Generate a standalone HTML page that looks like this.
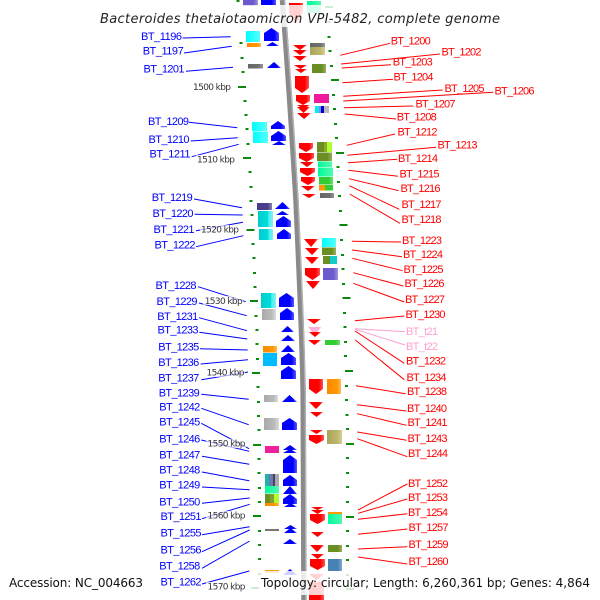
<!DOCTYPE html>
<html>
<head>
<meta charset="utf-8">
<style>
html,body{margin:0;padding:0;background:#fff;width:600px;height:600px;overflow:hidden}
svg{display:block}
.l{font:11px "Liberation Sans",sans-serif}
.k{font:9px "DejaVu Sans",sans-serif;fill:#333}
.b text{fill:#00f}
.r text{fill:#f00}
</style>
</head>
<body>
<svg width="600" height="600" viewBox="0 0 600 600" xmlns="http://www.w3.org/2000/svg">
<defs>
<linearGradient id="gb"><stop offset="0" stop-color="#00f"/><stop offset=".7" stop-color="#00f"/><stop offset="1" stop-color="#55f"/></linearGradient>
<linearGradient id="gr"><stop offset="0" stop-color="#f00"/><stop offset=".7" stop-color="#f00"/><stop offset="1" stop-color="#f55"/></linearGradient>
<linearGradient id="gc"><stop offset="0" stop-color="#0cc"/><stop offset=".65" stop-color="#0dd"/><stop offset=".7" stop-color="#4ee"/><stop offset="1" stop-color="#8ee"/></linearGradient>
<linearGradient id="gC"><stop offset="0" stop-color="#0ff"/><stop offset="1" stop-color="#5ff"/></linearGradient>
<linearGradient id="gg"><stop offset="0" stop-color="#aaa"/><stop offset=".7" stop-color="#bbb"/><stop offset="1" stop-color="#ddd"/></linearGradient>
<linearGradient id="go"><stop offset="0" stop-color="#6b8e23"/><stop offset=".7" stop-color="#6b8e23"/><stop offset="1" stop-color="#9ab060"/></linearGradient>
<linearGradient id="gk"><stop offset="0" stop-color="#a8a35e"/><stop offset=".7" stop-color="#bdb76b"/><stop offset="1" stop-color="#d5d09a"/></linearGradient>
<linearGradient id="gS"><stop offset="0" stop-color="#00fa9a"/><stop offset="1" stop-color="#50fab0"/></linearGradient>
<linearGradient id="gl"><stop offset="0" stop-color="#32cd32"/><stop offset=".7" stop-color="#32cd32"/><stop offset="1" stop-color="#70dd70"/></linearGradient>
<linearGradient id="gO"><stop offset="0" stop-color="#f80"/><stop offset=".7" stop-color="#f90"/><stop offset="1" stop-color="#fb5"/></linearGradient>
<linearGradient id="gp"><stop offset="0" stop-color="#6a5acd"/><stop offset=".7" stop-color="#6a5acd"/><stop offset="1" stop-color="#a096e0"/></linearGradient>
<linearGradient id="gd"><stop offset="0" stop-color="#483d8b"/><stop offset=".7" stop-color="#483d8b"/><stop offset="1" stop-color="#8a82b8"/></linearGradient>
<linearGradient id="gD"><stop offset="0" stop-color="#666"/><stop offset=".7" stop-color="#707070"/><stop offset="1" stop-color="#999"/></linearGradient>
<linearGradient id="gB"><stop offset="0" stop-color="#4682b4"/><stop offset=".7" stop-color="#4682b4"/><stop offset="1" stop-color="#80a8d0"/></linearGradient>
<linearGradient id="gy"><stop offset="0" stop-color="#0bf"/><stop offset="1" stop-color="#0bf"/></linearGradient>
</defs>

<!-- backbone -->
<path d="M282.5 0 C288 70 293 150 296 200 C299 270 303 350 303.2 400 L304 600" fill="none" stroke="#8a8a8a" stroke-width="5.5"/>
<path d="M284.5 0 C290 70 295 150 298 200 C301 270 305 350 305.2 400 L306 600" fill="none" stroke="#b5b5b5" stroke-width="1.2"/>

<!-- ticks -->
<g stroke="#0a8a0a" stroke-width="2" fill="none">
<path d="M236.500 1h3M239.500 43h3M240.500 58h3M241.500 72h3M238 87h8M243.500 101h3M244.500 115h3M245.500 129h3M246.500 144h3M243 158h8M248.500 172h3M249.500 187h3M249.500 201h3M250.500 215h3M246.500 230h8M251.500 244h3M252.500 258h3M253 273h3M253.500 287h3M250 301h8M254.500 316h3M255.500 330h3M255.500 344h3M256 359h3M252 373h8M256.500 387h3M257 402h3M257 416h3M257.500 430h3M253 445h8M257.500 459h3M257.500 473h3M258 488h3M258 502h3M253 516h8M258 531h3M258 545h3M258 559h3M258 574h3M251 588h8"/>
<path d="M325 7h8M327.500 22h3M327.500 37h3M328.500 51h3M330 66h3M331 80h8M332 95h3M333 109h3M334 124h3M335 138h3M336 153h8M336.500 167h3M337 182h3M338 196h3M339 211h3M339.500 225h8M340 240h3M341 255h3M341.500 269h3M342 284h3M342.500 298h8M343 313h3M343.500 327h3M344 342h3M344 356h3M345 371h8M345 386h3M345 400h3M345.500 415h3M346 429h3M346 444h8M346 458h3M346 473h3M346 487h3M346 502h3M346 517h8M346 531h3M346 546h3M346 560h3M346 575h3M346 589h8"/>
</g>

<!-- left boxes -->
<rect x="243" y="0" width="15" height="6" fill="url(#gp)"/>
<rect x="246" y="31" width="14" height="11" fill="url(#gC)"/>
<rect x="247" y="43" width="14" height="4" fill="url(#gO)"/>
<rect x="248" y="64" width="15" height="4.5" fill="url(#gD)"/>
<rect x="252" y="122" width="15" height="9" fill="url(#gC)"/>
<rect x="253" y="131.5" width="15" height="11.5" fill="url(#gC)"/>
<rect x="257" y="203" width="15" height="7" fill="url(#gd)"/>
<rect x="258" y="211" width="15" height="16" fill="url(#gc)"/>
<rect x="259" y="229" width="14" height="11" fill="url(#gc)"/>
<rect x="261" y="293" width="15" height="15" fill="url(#gc)"/>
<rect x="262" y="309" width="14" height="11" fill="url(#gg)"/>
<rect x="263" y="346" width="14" height="6.500" fill="url(#gO)"/>
<rect x="263" y="353" width="14" height="13" fill="url(#gy)"/>
<rect x="264" y="395" width="14" height="7" fill="url(#gg)"/>
<rect x="264" y="418" width="15" height="12" fill="url(#gg)"/>
<rect x="265" y="446" width="14" height="7" fill="#f0209c"/>
<rect x="265" y="474" width="4" height="12" fill="#20b2aa"/>
<rect x="269" y="474" width="4" height="12" fill="#6a7ab0"/>
<rect x="273" y="474" width="2" height="12" fill="#446"/>
<rect x="275" y="474" width="4" height="12" fill="#aaa"/>
<rect x="265" y="486" width="14" height="7.500" fill="url(#gS)"/>
<rect x="265" y="494" width="5" height="9" fill="#6b8e23"/>
<rect x="270" y="494" width="4" height="9" fill="#80a030"/>
<rect x="274" y="494" width="5" height="9" fill="#adff2f"/>
<rect x="265" y="503" width="14" height="3" fill="url(#gO)"/>
<rect x="265" y="529" width="14" height="2" fill="#777"/>

<!-- left arrows (forward strand) -->
<g fill="url(#gb)">
<rect x="261" y="0" width="15" height="5"/>
<polygon points="271.500,28 279,33 279,41 264,41 264,33"/>
<polygon points="272.500,42 279,46 266,46"/>
<polygon points="274,62 281,68 267,68"/>
<polygon points="278,121 285,126 285,129 271,129 271,126"/>
<polygon points="278.500,131 286,136 286,141 271,141 271,136"/>
<polygon points="279,141 286,145 272,145"/>
<polygon points="282.500,202 290,209 275,209"/>
<polygon points="282.500,211 289,215 276,215"/>
<polygon points="283.500,216 291,221 291,227 276,227 276,221"/>
<polygon points="284,229 291,234 291,239 277,239 277,234"/>
<polygon points="286.500,293 294,298 294,307 279,307 279,298"/>
<polygon points="287,308 294,313 294,320 280,320 280,313"/>
<polygon points="287.500,326 294,332 281,332"/>
<polygon points="288,335 295,341 281,341"/>
<polygon points="288,345 295,352 281,352"/>
<polygon points="288.500,353 296,358 296,365 281,365 281,358"/>
<polygon points="288.500,366 296,371 296,379 281,379 281,371"/>
<polygon points="289.500,395 297,402 282,402"/>
<polygon points="289.500,418 297,423 297,430 282,430 282,423"/>
<polygon points="290,445 297,450 283,450"/>
<polygon points="290,449 297,453 283,453"/>
<polygon points="290,455 297,460 297,473 283,473 283,460"/>
<polygon points="290,475 297,480 297,486 283,486 283,480"/>
<polygon points="290,486 297,494 283,494"/>
<polygon points="290,494 297,499 297,504 283,504 283,499"/>
<polygon points="290.500,503 297,507 284,507"/>
<polygon points="290.500,525 297,529 284,529"/>
<polygon points="290.500,528 297,533 284,533"/>
<polygon points="290,539 297,544 283,544"/>
<polygon points="290,569 297,575 283,575"/>
</g>

<!-- right boxes -->
<rect x="307" y="1" width="14" height="12" fill="url(#gS)"/>
<rect x="310" y="43" width="15" height="4" fill="url(#gD)"/>
<rect x="310" y="47" width="15" height="8" fill="url(#gk)"/>
<rect x="312" y="64" width="14" height="9" fill="url(#go)"/>
<rect x="314" y="94" width="15" height="9" fill="#f0189c"/>
<rect x="315" y="106" width="4" height="7" fill="#0ee"/>
<rect x="319" y="106" width="2" height="7" fill="#88e"/>
<rect x="321" y="106" width="3" height="7" fill="#00d"/>
<rect x="324" y="106" width="5" height="7" fill="#bbb"/>
<rect x="317" y="142" width="7" height="10" fill="#6b8e23"/>
<rect x="324" y="142" width="3" height="10" fill="#90a830"/>
<rect x="327" y="142" width="5" height="10" fill="#adff2f"/>
<rect x="317" y="152.500" width="15" height="8.500" fill="url(#go)"/>
<rect x="318" y="161.500" width="14" height="5.500" fill="url(#gS)"/>
<rect x="318" y="167.500" width="15" height="9" fill="url(#gS)"/>
<rect x="319" y="177" width="14" height="7.500" fill="url(#gl)"/>
<rect x="319" y="185" width="6" height="5.500" fill="#f90"/>
<rect x="325" y="185" width="8" height="5.500" fill="#32cd32"/>
<rect x="320" y="193" width="14" height="5" fill="url(#gD)"/>
<rect x="322" y="238" width="14" height="9" fill="url(#gC)"/>
<rect x="322" y="247.500" width="14" height="7.500" fill="url(#go)"/>
<rect x="323" y="256" width="7" height="8" fill="#6b8e23"/>
<rect x="330" y="256" width="7" height="8" fill="#1cc"/>
<rect x="323" y="268" width="15" height="12" fill="url(#gp)"/>
<rect x="325" y="340" width="15" height="5" fill="url(#gl)"/>
<rect x="327" y="379" width="14" height="15" fill="url(#gO)"/>
<rect x="327" y="430" width="15" height="14" fill="url(#gk)"/>
<rect x="328" y="512" width="14" height="2" fill="#f90"/>
<rect x="328" y="514" width="14" height="10" fill="url(#gS)"/>
<rect x="328" y="545" width="14" height="7" fill="url(#go)"/>
<rect x="328" y="559" width="14" height="12" fill="url(#gB)"/>
<rect x="265" y="570" width="14" height="3" fill="#f90"/>

<!-- right arrows (reverse strand) -->
<polygon points="308,327 321,327 315,335" fill="#ffb0d8"/>
<g fill="url(#gr)">
<polygon points="289,3 303,3 303,12 296,24 289,12"/>
<polygon points="293,45 307,45 300,50"/>
<polygon points="293,50 307,50 300,55"/>
<polygon points="293,56 307,56 300,61"/>
<polygon points="294,65 307,65 300.500,69"/>
<polygon points="295,69 307,69 301,73"/>
<polygon points="295,76 309,76 309,88 302,93 295,88"/>
<polygon points="296,95 310,95 310,101 303,105 296,101"/>
<polygon points="297,105 310,105 303.500,109"/>
<polygon points="297,107 310,107 303.500,113"/>
<polygon points="297,113 311,113 304,119"/>
<polygon points="299,143 313,143 313,148 306,152 299,148"/>
<polygon points="299,153 314,153 314,158 306.500,162 299,158"/>
<polygon points="300,162 314,162 307,167"/>
<polygon points="300,168 315,168 315,172 307.500,176 300,172"/>
<polygon points="301,177 315,177 315,181 308,185 301,181"/>
<polygon points="301,186 315,186 308,191"/>
<polygon points="302,194 316,194 309,198"/>
<polygon points="304,239 318,239 311,247"/>
<polygon points="305,248 319,248 312,255"/>
<polygon points="305,257 319,257 312,264"/>
<polygon points="305,268 320,268 320,275 312.500,280 305,275"/>
<polygon points="306,281 320,281 313,289"/>
<polygon points="307,319 321,319 314,324"/>
<polygon points="309,332 321,332 315,337"/>
<polygon points="308,340 321,340 314.500,345"/>
<polygon points="309,379 323,379 323,389 316,394 309,389"/>
<polygon points="309,402 323,402 316,409"/>
<polygon points="310,412 323,412 316.500,417"/>
<polygon points="310,430 323,430 316.500,434"/>
<polygon points="309,435 324,435 324,440 316.500,444 309,440"/>
<polygon points="311,507 324,507 317.500,510"/>
<polygon points="311,510 324,510 317.500,514"/>
<polygon points="310,514 325,514 325,520 317.500,524 310,520"/>
<polygon points="311,532 324,532 317.500,537"/>
<polygon points="310,545 324,545 317,552"/>
<polygon points="311,554 324,554 317.500,559"/>
<polygon points="310,559 325,559 325,566 317.500,570 310,566"/>
<polygon points="309,574 324,574 316.500,580"/>
<rect x="309" y="582" width="15" height="18"/>
</g>

<!-- translucent title/footer backings -->
<g fill="#fff" fill-opacity=".82">
<rect x="100" y="5" width="400" height="22"/>
<rect x="0" y="571" width="600" height="24"/>
</g>

<!-- connectors -->
<g stroke="#00f" stroke-width="1" fill="none">
<path d="M182.700 38L230.700 36.700M184 53L231.700 46.300M186 71.300L233 67.300M189 122.300L237.300 127.700M190.700 141L237.700 137.700M191.700 156.700L238.700 144.300M194 199L242 207.700M194.700 214.300L242.700 215M196 230.700L243 222.300M196 246.700L243.300 235.700M198 286.700L245.700 301.700M199 303L246.700 315.700M199 317.700L247 330.700M199.300 332.300L247.300 339M200 348.700L247.700 350M200.700 364L248 359.700M201.300 379.700L248 372M201.300 394.300L248.700 399.300M201.300 408.300L248.700 424.700M201.300 423.300L249 448.700M201.300 440L249.300 451.300M202 456.300L249.300 464.300M202 472L249.300 480.700M202 487L249.700 489.700M202 503.300L249.700 498M202 518.700L249.700 504.300M202 534.700L249.700 526.700M202 551.700L249.700 530M202 568.300L249.700 541M202 584L249.300 571"/>
</g>
<g stroke="#f00" stroke-width="1" fill="none">
<path d="M340.300 55.300L390 43.300M341 64L440 54M341.700 68L391 64.700M342.300 82.700L393 79.300M343.300 96.300L442.700 90M343.300 101L493.300 92.300M344 107.700L413.300 106M344.700 114L396 119M346.700 145.300L395 134M347.300 155.300L436 147.300M348 162.700L397.300 159.300M348.300 170.300L398 176.300M349 178.700L398.700 190.700M349.300 185.700L399.300 209.300M349.700 194L400 223.300M352 241.300L401 242M352 250L402 256.700M352.300 258.300L402.700 270.700M353.300 272.700L403.300 286M353.300 283.300L404.300 302M354.700 320.700L404.300 316M355 331L404.300 363.300M355.300 340L404.300 379.700M356 385.700L405.700 393.700M357 404.700L406.300 411M357 413.700L406.700 425.300M357.300 432L406.700 440.300M357.300 438.700L407.300 456.700M358 510L407.300 484M358 513.300L407.300 499M358 519.300L407.300 513.700M358 534.300L407.300 529M358 549L407.300 546.700M358 557L407.300 564"/>
</g>
<path d="M355 328.700L405 331.700M355 329.300L405 345" stroke="#ffa0d0" stroke-width="1" fill="none"/>

<!-- kbp label backings -->
<g fill="#fff" fill-opacity=".65">
<rect x="192" y="83" width="40" height="9"/>
<rect x="196" y="155" width="40" height="9"/>
<rect x="200" y="225" width="40" height="9"/>
<rect x="203" y="296" width="40" height="9"/>
<rect x="205" y="368" width="40" height="9"/>
<rect x="206" y="439" width="40" height="9"/>
<rect x="206" y="511" width="40" height="9"/>
<rect x="206" y="582" width="40" height="9"/>
</g>

<!-- kbp labels -->
<g class="k">
<text x="193" y="90" textLength="38">1500 kbp</text>
<text x="197" y="162.700" textLength="38">1510 kbp</text>
<text x="201" y="232.700" textLength="38">1520 kbp</text>
<text x="204.700" y="304" textLength="38">1530 kbp</text>
<text x="206.500" y="375.700" textLength="38">1540 kbp</text>
<text x="207.500" y="446.700" textLength="38">1550 kbp</text>
<text x="207.500" y="518.700" textLength="38">1560 kbp</text>
<text x="207.500" y="589.300" textLength="38">1570 kbp</text>
</g>

<!-- blue labels -->
<g class="l b">
<text x="141" y="40" textLength="41">BT_1196</text>
<text x="142.700" y="54.700" textLength="41">BT_1197</text>
<text x="143.500" y="72.700" textLength="41">BT_1201</text>
<text x="148" y="125" textLength="41">BT_1209</text>
<text x="148.500" y="143" textLength="41">BT_1210</text>
<text x="149.500" y="157.700" textLength="41">BT_1211</text>
<text x="151.700" y="201" textLength="41">BT_1219</text>
<text x="152.500" y="217" textLength="41">BT_1220</text>
<text x="153.500" y="233" textLength="41">BT_1221</text>
<text x="154.500" y="248.300" textLength="41">BT_1222</text>
<text x="155.500" y="289" textLength="41">BT_1228</text>
<text x="156.500" y="305" textLength="41">BT_1229</text>
<text x="157.300" y="320" textLength="41">BT_1231</text>
<text x="157.500" y="333.700" textLength="41">BT_1233</text>
<text x="158.300" y="350.300" textLength="41">BT_1235</text>
<text x="158.300" y="366" textLength="41">BT_1236</text>
<text x="158.300" y="381.700" textLength="41">BT_1237</text>
<text x="158.700" y="396.700" textLength="41">BT_1239</text>
<text x="159.300" y="410.700" textLength="41">BT_1242</text>
<text x="159.300" y="425.700" textLength="41">BT_1245</text>
<text x="159.300" y="442.700" textLength="41">BT_1246</text>
<text x="159.300" y="458.300" textLength="41">BT_1247</text>
<text x="159.300" y="473.300" textLength="41">BT_1248</text>
<text x="159.300" y="488.700" textLength="41">BT_1249</text>
<text x="159.300" y="505.300" textLength="41">BT_1250</text>
<text x="160.500" y="520" textLength="41">BT_1251</text>
<text x="160.500" y="536.700" textLength="41">BT_1255</text>
<text x="160.500" y="553.300" textLength="41">BT_1256</text>
<text x="159.300" y="569.300" textLength="41">BT_1258</text>
<text x="160.500" y="585.300" textLength="41">BT_1262</text>
</g>

<!-- red labels -->
<g class="l r">
<text x="390.700" y="44.700" textLength="40">BT_1200</text>
<text x="441.500" y="55.300" textLength="40">BT_1202</text>
<text x="392.700" y="65.700" textLength="40">BT_1203</text>
<text x="393.500" y="80.700" textLength="40">BT_1204</text>
<text x="444.500" y="92" textLength="40">BT_1205</text>
<text x="494.500" y="94.700" textLength="40">BT_1206</text>
<text x="415.500" y="107.700" textLength="40">BT_1207</text>
<text x="396.700" y="120.700" textLength="40">BT_1208</text>
<text x="397.500" y="135.300" textLength="40">BT_1212</text>
<text x="437.500" y="148.300" textLength="40">BT_1213</text>
<text x="398" y="162" textLength="40">BT_1214</text>
<text x="399.500" y="177.500" textLength="40">BT_1215</text>
<text x="400.500" y="192" textLength="40">BT_1216</text>
<text x="401.500" y="208" textLength="40">BT_1217</text>
<text x="401.500" y="223" textLength="40">BT_1218</text>
<text x="402" y="244" textLength="40">BT_1223</text>
<text x="403" y="258" textLength="40">BT_1224</text>
<text x="403.500" y="273" textLength="40">BT_1225</text>
<text x="404.500" y="287" textLength="40">BT_1226</text>
<text x="405" y="303" textLength="40">BT_1227</text>
<text x="405.500" y="318" textLength="40">BT_1230</text>
<text x="406" y="335" textLength="32" style="fill:#ffa0d0">BT_t21</text>
<text x="406" y="350" textLength="32" style="fill:#ffa0d0">BT_t22</text>
<text x="406" y="364.500" textLength="40">BT_1232</text>
<text x="406.500" y="381" textLength="40">BT_1234</text>
<text x="407" y="395" textLength="40">BT_1238</text>
<text x="407" y="412" textLength="40">BT_1240</text>
<text x="407.500" y="426" textLength="40">BT_1241</text>
<text x="407.500" y="442" textLength="40">BT_1243</text>
<text x="408" y="457" textLength="40">BT_1244</text>
<text x="408" y="487" textLength="40">BT_1252</text>
<text x="408" y="501" textLength="40">BT_1253</text>
<text x="408" y="516" textLength="40">BT_1254</text>
<text x="408.500" y="531" textLength="40">BT_1257</text>
<text x="408.500" y="548" textLength="40">BT_1259</text>
<text x="408.500" y="565" textLength="40">BT_1260</text>
</g>

<!-- title and footer -->
<text x="100" y="23" textLength="400" style="font:italic 13px 'DejaVu Sans',sans-serif;fill:#222">Bacteroides thetaiotaomicron VPI-5482, complete genome</text>
<text x="9" y="587" textLength="134" style="font:12px 'DejaVu Sans',sans-serif;fill:#111">Accession: NC_004663</text>
<text x="261" y="587" textLength="329" style="font:12px 'DejaVu Sans',sans-serif;fill:#111">Topology: circular; Length: 6,260,361 bp; Genes: 4,864</text>
</svg>
</body>
</html>
